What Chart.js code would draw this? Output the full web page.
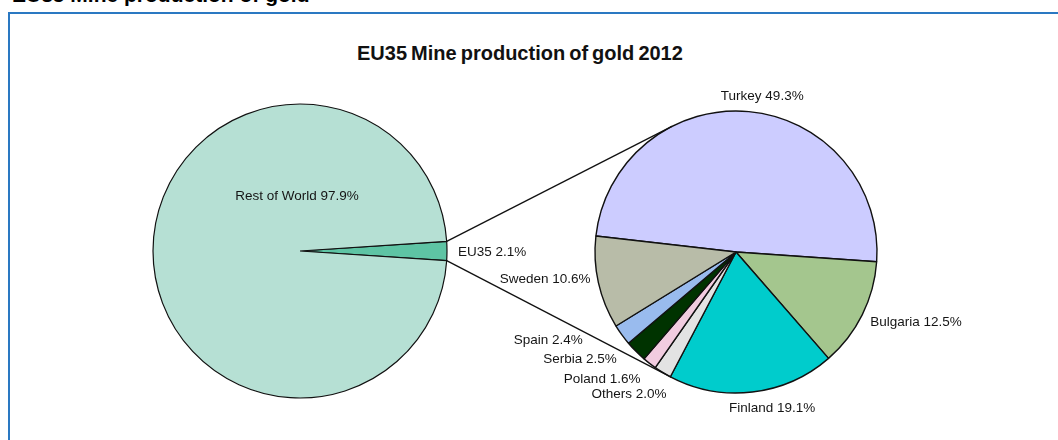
<!DOCTYPE html>
<html><head><meta charset="utf-8">
<script src="https://cdn.jsdelivr.net/npm/chart.js@4/dist/chart.umd.min.js"></script>
<style>
html,body{margin:0;padding:0;background:#fff;width:1058px;height:440px;overflow:hidden;font-family:"Liberation Sans",Arial,sans-serif;}
#hdr{position:absolute;left:12px;top:-16px;font-weight:bold;font-size:21px;color:#000;white-space:nowrap;line-height:21px;}
#box{position:absolute;left:8px;top:12px;width:1200px;height:600px;border-left:2px solid #2a78c2;border-top:2px solid #2a78c2;}
#ttl{position:absolute;top:42px;left:357px;font-weight:bold;font-size:20px;word-spacing:-1.5px;color:#111;white-space:nowrap;}
.wrap{position:absolute;left:0;top:0;width:1058px;height:440px;}
</style></head>
<body>
<div id="hdr">EU35 Mine production of gold</div>
<div id="box"></div>
<div id="ttl">EU35 Mine production of gold 2012</div>
<div class="wrap"><canvas id="left" width="1058" height="440"></canvas></div>
<div class="wrap"><canvas id="right" width="1058" height="440"></canvas></div>
<script>
// ---- data ----
const leftLabels = ['EU35', 'Rest of World'];
const leftValues = [2.1, 97.9];
const rightLabels = ['Turkey', 'Bulgaria', 'Finland', 'Others', 'Poland', 'Serbia', 'Spain', 'Sweden'];
const rightValues = [49.3, 12.5, 19.1, 2.0, 1.6, 2.5, 2.4, 10.6];

// ---- styles ----
const leftColors = ['#5ec4a4', '#b6e0d4'];
const rightColors = ['#ccccff', '#a4c68e', '#00cccc', '#e3e3e3', '#f2cce0', '#003300', '#99bbee', '#b8bca8'];
// label placement: [radial distance beyond edge, dx, dy, align]
const leftLabelPos = [[8, 3, 1, 'left'], [-147, -3, -55, 'center']];
const rightLabelPos = [[15, 12, 0, 'center'], [10, -1, 3, 'left'], [15, 18, 1, 'center'], [10, 9, 13, 'right'],
  [10, -3, 8, 'right'], [10, -12, 1, 'right'], [10, -31, 0, 'right'], [10, 2, -6, 'right']];
const LABEL_FONT = '13.5px "Liberation Sans", Arial, sans-serif';

function labelPlugin(labels, values, pos) {
  return {
    id: 'sliceLabels',
    afterDraw(chart) {
      const ctx = chart.ctx;
      const arcs = chart.getDatasetMeta(0).data;
      ctx.save();
      ctx.font = LABEL_FONT;
      ctx.fillStyle = '#151515';
      ctx.textBaseline = 'middle';
      arcs.forEach((a, i) => {
        const mid = (a.startAngle + a.endAngle) / 2;
        const [d, dx, dy, align] = pos[i];
        const r = a.outerRadius + d;
        const x = a.x + r * Math.cos(mid) + dx;
        const y = a.y + r * Math.sin(mid) + dy;
        ctx.textAlign = align;
        ctx.fillText(labels[i] + ' ' + values[i].toFixed(1) + '%', x, y);
      });
      ctx.restore();
    }
  };
}

function pieOptions(rotation, radius, padding) {
  return {
    responsive: false,
    animation: false,
    events: [],
    rotation: rotation,
    radius: radius,
    layout: { padding: padding },
    plugins: { legend: { display: false }, tooltip: { enabled: false }, title: { display: false } }
  };
}

const leftChart = new Chart(document.getElementById('left'), {
  type: 'pie',
  data: { labels: leftLabels, datasets: [{ data: leftValues, backgroundColor: leftColors, borderColor: '#111', borderWidth: 1.2 }] },
  options: pieOptions(90 - leftValues[0] * 3.6 / 2, 147, { left: 153, right: 611, top: 104, bottom: 42 }),
  plugins: [labelPlugin(leftLabels, leftValues, leftLabelPos)]
});

const connectorPlugin = {
  id: 'connectors',
  afterDatasetsDraw(chart) {
    const src = leftChart.getDatasetMeta(0).data[0];
    const tgt = chart.getDatasetMeta(0).data[0];
    const C = { x: tgt.x, y: tgt.y }, r = tgt.outerRadius;
    const ctx = chart.ctx;
    ctx.save();
    ctx.strokeStyle = '#111';
    ctx.lineWidth = 1.3;
    [[src.startAngle, -1], [src.endAngle, 1]].forEach(([ang, side]) => {
      const P = { x: src.x + src.outerRadius * Math.cos(ang), y: src.y + src.outerRadius * Math.sin(ang) };
      const dxp = P.x - C.x, dyp = P.y - C.y;
      const d = Math.hypot(dxp, dyp);
      const th = Math.atan2(dyp, dxp), al = Math.acos(r / d);
      const t1 = { x: C.x + r * Math.cos(th + al), y: C.y + r * Math.sin(th + al) };
      const t2 = { x: C.x + r * Math.cos(th - al), y: C.y + r * Math.sin(th - al) };
      let T = side < 0 ? (t1.y < t2.y ? t1 : t2) : (t1.y > t2.y ? t1 : t2);
      ctx.beginPath();
      ctx.moveTo(P.x, P.y);
      ctx.lineTo(T.x, T.y);
      ctx.stroke();
    });
    ctx.restore();
  }
};

const rightChart = new Chart(document.getElementById('right'), {
  type: 'pie',
  data: { labels: rightLabels, datasets: [{ data: rightValues, backgroundColor: rightColors, borderColor: '#111', borderWidth: 1.4 }] },
  options: pieOptions(-83.5, 141, { left: 595, right: 181, top: 111, bottom: 47 }),
  plugins: [connectorPlugin, labelPlugin(rightLabels, rightValues, rightLabelPos)]
});
</script>
</body></html>
